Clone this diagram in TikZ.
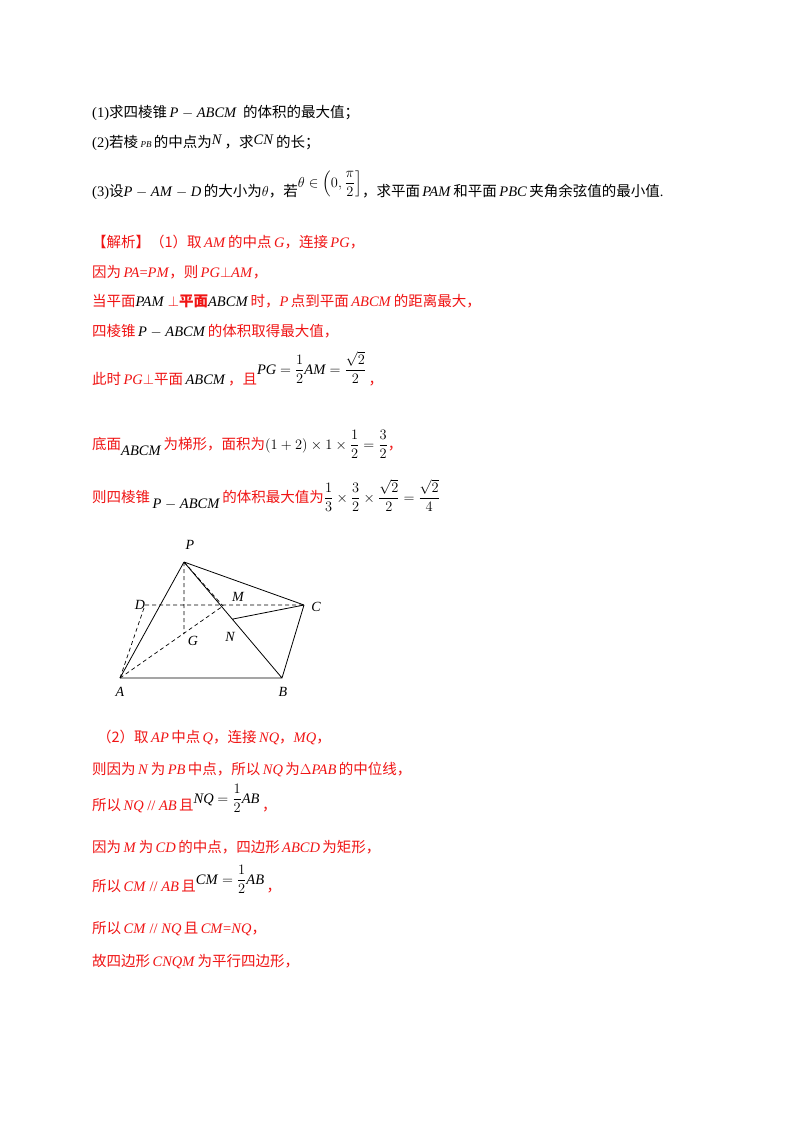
\documentclass[tikz,border=0pt]{standalone}
\usepackage{amsmath}
\usepackage{fontspec}
\setmainfont{Liberation Serif}
\newfontfamily\cjk{Noto Sans CJK SC}
\definecolor{rd}{RGB}{240,20,20}
\newcommand{\zh}[1]{{\cjk #1}}
\newcommand{\mi}[1]{\textit{#1}}
\begin{document}
\begin{tikzpicture}[x=1pt,y=-1pt,
  txt/.style={anchor=base west,inner sep=0pt,font=\fontsize{14.5}{17}\selectfont},
  red/.style={txt,text=rd},
  lab/.style={font=\fontsize{14}{16}\selectfont\itshape,inner sep=0pt},
  sl/.style={line width=0.8pt},
  dl/.style={line width=0.7pt,dashed,dash pattern=on 4pt off 3pt}]
\useasboundingbox (0,0) rectangle (800,1132);
\fill[white] (0,0) rectangle (800,1132);
% question
\node[txt] (q1) at (92,117) {(1)\zh{求四棱锥}\,\mi{P} $-$ \mi{ABCM}\, \zh{的体积的最大值；}};
\node[txt] (q2) at (92,147) {(2)\zh{若棱}\,{\small\mi{PB}}\,\zh{的中点为}\raisebox{3pt}{\mi{N}}\,\zh{，求}\raisebox{3pt}{\mi{CN}}\,\zh{的长；}};
\node[txt] (q3) at (92,196) {(3)\zh{设}\mi{P} $-$ \mi{AM} $-$ \mi{D}\,\zh{的大小为}$\theta$\zh{，若}\raisebox{9pt}{$\theta\in\left(0,\dfrac{\pi}{2}\right]$}\zh{，求平面}\,\mi{PAM}\,\zh{和平面}\,\mi{PBC}\,\zh{夹角余弦值的最小值}.};
% solution 1
\node[red] (s1) at (92,247) {\zh{【解析】（1）取}\,\mi{AM}\,\zh{的中点}\,\mi{G}\zh{，连接}\,\mi{PG}\zh{，}};
\node[red] (s2) at (92,277) {\zh{因为}\,\mi{PA}=\mi{PM}\zh{，则}\,\mi{PG}$\perp$\mi{AM}\zh{，}};
\node[red] (s3) at (92,306) {\zh{当平面}\textcolor{black}{\mi{PAM}} $\perp$\textbf{\zh{平面}}\textcolor{black}{\mi{ABCM}}\,\zh{时，}\mi{P}\,\zh{点到平面}\,\mi{ABCM}\,\zh{的距离最大，}};
\node[red] (s4) at (92,336) {\zh{四棱锥}\,\textcolor{black}{\mi{P} $-$ \mi{ABCM}}\,\zh{的体积取得最大值，}};
\node[red] (s5) at (92,384) {\zh{此时}\,\mi{PG}$\perp$\zh{平面}\,\textcolor{black}{\mi{ABCM}}\,\zh{，且}\raisebox{10pt}{\textcolor{black}{\mi{PG} $=\dfrac{1}{2}$\mi{AM} $=\dfrac{\sqrt{2}}{2}$}}\,\zh{，}};
\node[red] (s6) at (92,449) {\zh{底面}\raisebox{-6pt}{\textcolor{black}{\mi{ABCM}}}\,\zh{为梯形，面积为}\textcolor{black}{$\left(1+2\right)\times1\times\dfrac{1}{2}=\dfrac{3}{2}$}\zh{，}};
\node[red] (s7) at (92,502) {\zh{则四棱锥}\,\raisebox{-6pt}{\textcolor{black}{\mi{P} $-$ \mi{ABCM}}}\,\zh{的体积最大值为}\textcolor{black}{$\dfrac{1}{3}\times\dfrac{3}{2}\times\dfrac{\sqrt{2}}{2}=\dfrac{\sqrt{2}}{4}$}};
% figure
\coordinate (P) at (184,562);
\coordinate (D) at (145,605);
\coordinate (M) at (223,606);
\coordinate (C) at (304,605);
\coordinate (G) at (184,634);
\coordinate (A) at (120,678);
\coordinate (B) at (282,678);
\coordinate (N) at (233,619);
\draw[sl] (P)--(A) (P)--(B) (P)--(C) (A)--(B)--(C) (N)--(C);
\draw[dl] (D)--(C) (A)--(D) (A)--(M) (P)--(G) (P)--(M);
\node[lab] (lP) at (190,545) {P};
\node[lab] (lD) at (140,605) {D};
\node[lab] (lM) at (238,597) {M};
\node[lab] (lC) at (316,607) {C};
\node[lab] (lG) at (193,641) {G};
\node[lab] (lN) at (230,637) {N};
\node[lab] (lA) at (120,692) {A};
\node[lab] (lB) at (283,692) {B};
% solution 2
\node[red] (t1) at (97,742) {\zh{（2）取}\,\mi{AP}\,\zh{中点}\,\mi{Q}\zh{，连接}\,\mi{NQ}\zh{，}\mi{MQ}\zh{，}};
\node[red] (t2) at (92,774) {\zh{则因为}\,\mi{N}\,\zh{为}\,\mi{PB}\,\zh{中点，所以}\,\mi{NQ}\,\zh{为}$\Delta$\mi{PAB}\,\zh{的中位线，}};
\node[red] (t3) at (92,810) {\zh{所以}\,\mi{NQ} // \mi{AB}\,\zh{且}\raisebox{7pt}{\textcolor{black}{\mi{NQ} $=\dfrac{1}{2}$\mi{AB}}}\,\zh{，}};
\node[red] (t4) at (92,852) {\zh{因为}\,\mi{M}\,\zh{为}\,\mi{CD}\,\zh{的中点，四边形}\,\mi{ABCD}\,\zh{为矩形，}};
\node[red] (t5) at (92,891) {\zh{所以}\,\mi{CM} // \mi{AB}\,\zh{且}\raisebox{7pt}{\textcolor{black}{\mi{CM} $=\dfrac{1}{2}$\mi{AB}}}\,\zh{，}};
\node[red] (t6) at (92,933) {\zh{所以}\,\mi{CM} // \mi{NQ}\,\zh{且}\,\mi{CM}=\mi{NQ}\zh{，}};
\node[red] (t7) at (92,966) {\zh{故四边形}\,\mi{CNQM}\,\zh{为平行四边形，}};
\end{tikzpicture}
\end{document}
